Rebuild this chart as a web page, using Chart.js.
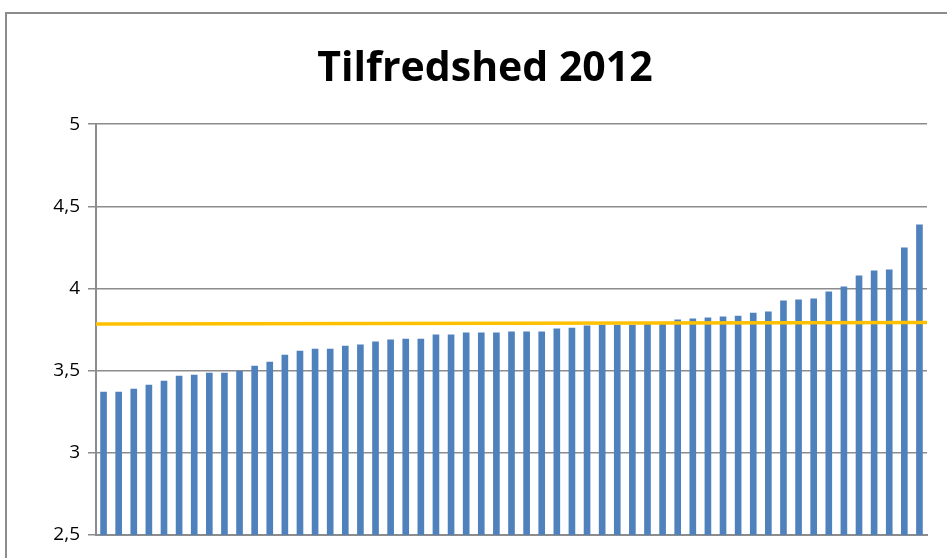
<!DOCTYPE html>
<html>
<head>
<meta charset="utf-8">
<script src="https://cdn.jsdelivr.net/npm/chart.js@4/dist/chart.umd.min.js"></script>
<style>
html,body{margin:0;padding:0;background:#fff;overflow:hidden}
#wrap{position:absolute;left:0;top:0;width:947px;height:558px}
#frame{position:absolute;left:5px;top:12px;width:960px;height:600px;border:2px solid #8c8c8c;box-sizing:border-box}
</style>
</head>
<body>
<div id="wrap">
<div id="frame"></div>
<canvas id="graf" width="947" height="558"></canvas>
</div>
<script>
// tilfredshed pr. enhed, sorteret stigende
const enheder = Array.from({length: 55}, (_, i) => 'E' + (i + 1));
const tilfredshed = [
3.372, 3.372, 3.39, 3.414, 3.439, 3.469, 3.475, 3.488, 3.488, 3.5,
3.53, 3.555, 3.597, 3.622, 3.634, 3.634, 3.652, 3.659, 3.677, 3.689,
3.695, 3.695, 3.72, 3.72, 3.732, 3.732, 3.732, 3.738, 3.738, 3.738,
3.756, 3.762, 3.775, 3.78, 3.78, 3.78, 3.785, 3.785, 3.811, 3.817,
3.823, 3.829, 3.835, 3.853, 3.86, 3.927, 3.933, 3.939, 3.982, 4.012,
4.079, 4.11, 4.116, 4.25, 4.39
];
// gennemsnitslinje, venstre og højre ende
const gennemsnit = [3.784, 3.793];
const yTicks = [2.5, 3, 3.5, 4, 4.5, 5];

const ctx_graf = document.getElementById('graf');
const graf = new Chart(ctx_graf, {
  data: {
    labels: enheder,
    datasets: [{
      type: 'line',
      label: 'Gennemsnit',
      xAxisID: 'x2',
      data: gennemsnit.map((v, i) => ({x: i, y: v})),
      borderColor: '#FFC000',
      borderWidth: 3.5,
      pointRadius: 0,
      order: 0
    }, {
      type: 'bar',
      label: 'Tilfredshed',
      data: tilfredshed,
      backgroundColor: '#4F81BD',
      grouped: false,
      barPercentage: 0.44,
      categoryPercentage: 1,
      order: 1
    }]
  },
  options: {
    responsive: false,
    animation: false,
    // venstre padding flytter titlen mod højre, y-aksen tager resten
    layout: {padding: {left: 43, right: 20, top: 0, bottom: 15}},
    plugins: {
      legend: {display: false},
      tooltip: {enabled: false},
      title: {
        display: true,
        text: 'Tilfredshed 2012',
        color: '#000',
        font: {family: 'Open Sans', size: 41, weight: 'bold'},
        padding: {top: 45, bottom: 30}
      }
    },
    scales: {
      x: {
        type: 'category',
        ticks: {display: false},
        grid: {display: false},
        border: {display: true, color: '#8c8c8c', width: 2}
      },
      x2: {
        type: 'linear',
        display: false,
        min: 0,
        max: gennemsnit.length - 1
      },
      y: {
        min: yTicks[0],
        max: yTicks[yTicks.length - 1],
        afterFit: s => { s.width = 53; },
        afterBuildTicks: s => { s.ticks = yTicks.map(v => ({value: v})); },
        ticks: {
          color: '#000',
          padding: 8,
          font: {family: 'Open Sans', size: 19},
          callback: v => String(v).replace('.', ',')
        },
        grid: {color: '#8c8c8c', lineWidth: 1.5, tickLength: 8},
        border: {color: '#8c8c8c', width: 2}
      }
    }
  }
});
</script>
</body>
</html>
